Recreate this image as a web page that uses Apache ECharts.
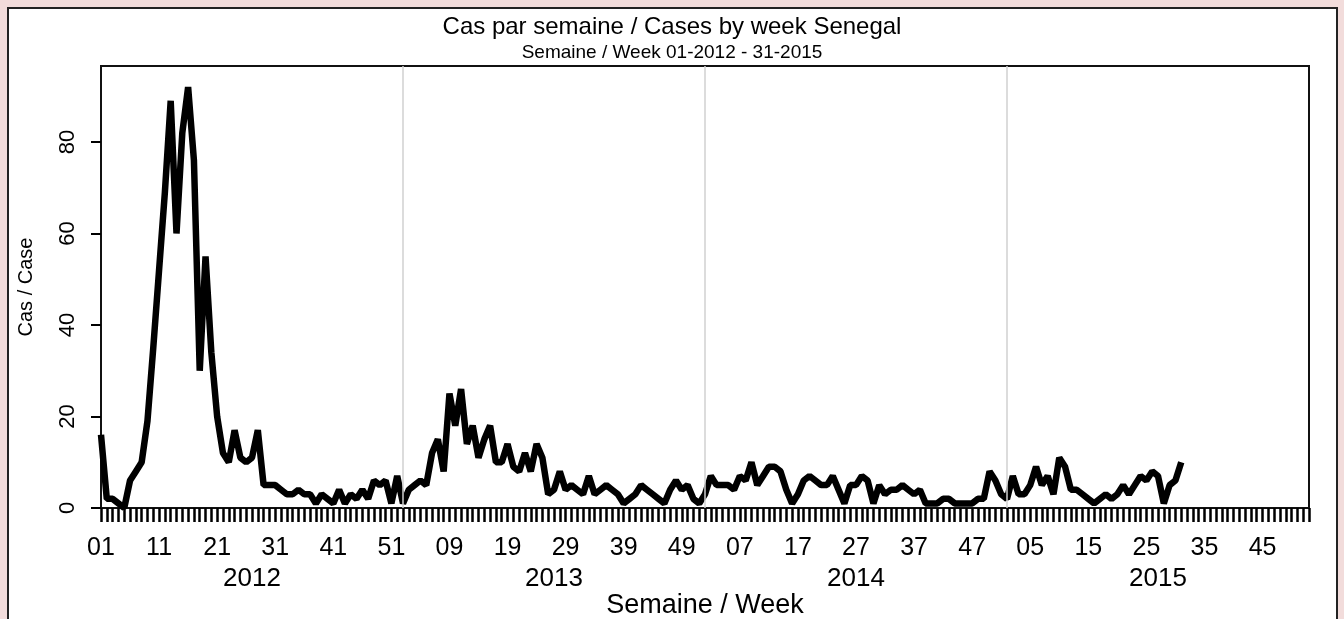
<!DOCTYPE html>
<html>
<head>
<meta charset="utf-8">
<script src="https://cdn.jsdelivr.net/npm/echarts@6/dist/echarts.min.js"></script>
<style>
  html, body { margin: 0; padding: 0; background: #f2dcdb; }
  #panel { position: absolute; left: 7px; top: 7px; width: 1327px; height: 700px; border: 2px solid #222; background: #fff; }
  #chart { position: absolute; left: 0; top: 0; width: 1344px; height: 619px; }
</style>
</head>
<body>
<div id="panel"></div>
<div id="chart"></div>
<script>
// weeks shown on the x axis, per year
var years = [2012, 2013, 2014, 2015];
var weeksPerYear = [52, 52, 52, 53];

// weekly cases, week 01-2012 .. week 31-2015
var cases = [
  16, 2, 2, 1, 0, 6, 8, 10, 19, 35,
  52, 69, 89, 60, 82, 92, 76, 30, 55, 34,
  20, 12, 10, 17, 11, 10, 11, 17, 5, 5,
  5, 4, 3, 3, 4, 3, 3, 1, 3, 2,
  1, 4, 1, 3, 2, 4, 2, 6, 5, 6,
  1, 7, 1, 4, 5, 6, 5, 12, 15, 8,
  25, 18, 26, 14, 18, 11, 15, 18, 10, 10,
  14, 9, 8, 12, 8, 14, 11, 3, 4, 8,
  4, 5, 4, 3, 7, 3, 4, 5, 4, 3,
  1, 2, 3, 5, 4, 3, 2, 1, 4, 6,
  4, 5, 2, 1, 3, 7, 5, 5, 5, 4,
  7, 6, 10, 5, 7, 9, 9, 8, 4, 1,
  3, 6, 7, 6, 5, 5, 7, 4, 1, 5,
  5, 7, 6, 1, 5, 3, 4, 4, 5, 4,
  3, 4, 1, 1, 1, 2, 2, 1, 1, 1,
  1, 2, 2, 8, 6, 3, 2, 7, 3, 3,
  5, 9, 5, 7, 3, 11, 9, 4, 4, 3,
  2, 1, 2, 3, 2, 3, 5, 3, 5, 7,
  6, 8, 7, 1, 5, 6, 10
];

var yTicks = [0, 20, 40, 60, 80];

// build "YYYY-WW" categories
var weekCats = [];
var yearMid = {};
for (var y = 0; y < years.length; y++) {
  for (var w = 1; w <= weeksPerYear[y]; w++) {
    weekCats.push(years[y] + '-' + (w < 10 ? '0' + w : '' + w));
  }
  yearMid[weekCats.length - weeksPerYear[y] + Math.floor(weeksPerYear[y] / 2)] = years[y];
}
var yearStarts = years.slice(1).map(function (yr) { return { xAxis: yr + '-01' }; });

var font = 'Liberation Sans, Arial, sans-serif';
var myChart = echarts.init(document.getElementById('chart'));

var option = {
  animation: false,
  title: {
    text: 'Cas par semaine / Cases by week Senegal',
    subtext: 'Semaine / Week 01-2012 - 31-2015',
    left: 'center',
    top: 10,
    itemGap: 4,
    textStyle: { fontFamily: font, fontSize: 24, fontWeight: 'normal', color: '#000' },
    subtextStyle: { fontFamily: font, fontSize: 19, color: '#000' }
  },
  grid: {
    left: 101, right: 35, top: 66, bottom: 111,
    outerBoundsMode: 'none',
    show: true, borderColor: '#111', borderWidth: 2, backgroundColor: 'transparent'
  },
  xAxis: [{
    type: 'category',
    data: weekCats,
    boundaryGap: false,
    name: 'Semaine / Week',
    nameLocation: 'middle',
    nameGap: 84,
    nameTextStyle: { fontFamily: font, fontSize: 27, color: '#000' },
    axisLine: { lineStyle: { color: '#111', width: 2 } },
    axisTick: { interval: 0, length: 14, lineStyle: { color: '#000', width: 2.5 } },
    axisLabel: {
      interval: 9, margin: 28, fontFamily: font, fontSize: 25, color: '#000',
      formatter: function (v) { return v.split('-')[1]; }
    },
    splitLine: { show: false }
  }, {
    type: 'category',
    data: weekCats,
    boundaryGap: false,
    position: 'bottom',
    axisLine: { show: false },
    axisTick: { show: false },
    axisLabel: {
      margin: 58, fontFamily: font, fontSize: 26, color: '#000',
      interval: function (idx) { return yearMid[idx] !== undefined; },
      formatter: function (v) { return v.split('-')[0]; }
    },
    splitLine: { show: false }
  }],
  yAxis: {
    type: 'value',
    min: 0,
    max: 96.6,
    name: 'Cas / Case',
    nameLocation: 'middle',
    nameGap: 65,
    nameTextStyle: { fontFamily: font, fontSize: 20, color: '#000' },
    axisLine: { show: true, lineStyle: { color: '#111', width: 2 } },
    axisTick: { show: true, length: 10, customValues: yTicks, lineStyle: { color: '#000', width: 2 } },
    axisLabel: { rotate: 90, margin: 22, customValues: yTicks, fontFamily: font, fontSize: 22, color: '#000' },
    splitLine: { show: false }
  },
  series: [{
    type: 'line',
    data: cases,
    xAxisIndex: 0,
    showSymbol: false,
    lineStyle: { color: '#000', width: 6.5 },
    markLine: {
      silent: true,
      symbol: 'none',
      label: { show: false },
      lineStyle: { color: '#d0d0d0', width: 1.5, type: 'solid' },
      data: yearStarts
    }
  }]
};

myChart.setOption(option);
</script>
</body>
</html>
